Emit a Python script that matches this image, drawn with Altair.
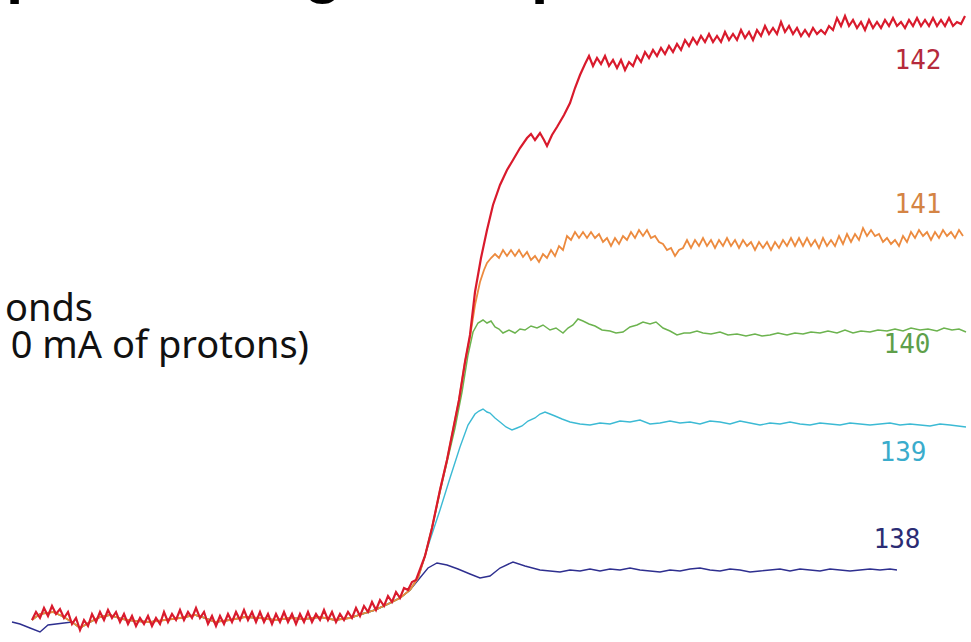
import altair as alt
import pandas as pd

# time axis in arbitrary units (0..971), signal in arbitrary units (0 = top of frame, 642 = bottom)
baseline_x = [32, 40, 53, 62, 72, 80, 90, 100, 110, 122, 135, 150, 165, 180, 195, 205, 215, 230, 245,
              260, 275, 290, 305, 320, 335, 350, 362, 375, 388, 400, 410, 418]
baseline_y = [620, 614, 612, 616, 622, 628, 622, 617, 615, 619, 621, 622, 620, 618, 615, 618, 622, 620, 617,
              618, 620, 618, 619, 617, 620, 618, 614, 610, 604, 598, 590, 578]

red_base_x = [32, 36, 40, 44, 48, 52, 56, 60, 64, 68, 72, 76, 80, 84, 88, 92, 96, 100, 104, 108, 112, 116,
              120, 124, 128, 132, 136, 140, 144, 148, 152, 156, 160, 164, 168, 172, 176, 180, 184, 188,
              192, 196, 200, 204, 208, 212, 216, 220, 224, 228, 232, 236, 240, 244, 248, 252, 256, 260,
              264, 268, 272, 276, 280, 284, 288, 292, 296, 300, 304, 308, 312, 316, 320, 324, 328, 332,
              336, 340, 344, 348, 352, 356, 360, 364, 368, 372, 376, 380, 384, 388, 392, 396, 400, 404,
              408, 412, 416]
red_base_y = [620, 612, 618, 608, 616, 606, 614, 609, 618, 612, 624, 618, 630, 620, 626, 614, 622, 612, 620,
              610, 618, 612, 622, 614, 624, 616, 626, 618, 624, 616, 626, 618, 624, 612, 622, 614, 620, 610,
              620, 612, 618, 608, 618, 612, 624, 616, 626, 616, 624, 614, 622, 612, 620, 610, 620, 612, 622,
              612, 622, 614, 624, 614, 622, 612, 622, 614, 624, 614, 622, 612, 622, 614, 620, 610, 620, 612,
              622, 614, 620, 612, 618, 608, 616, 606, 612, 602, 610, 600, 606, 596, 602, 592, 598, 588, 590,
              582, 580]

red_rise_x = [425, 432, 440, 447, 453, 459, 465, 470, 475, 481, 487, 493, 500, 507, 513, 520, 527, 531, 535,
              540, 544, 547, 552, 557, 564, 570, 575, 580]
red_rise_y = [556, 528, 490, 460, 430, 400, 362, 335, 292, 258, 230, 205, 185, 170, 160, 148, 138, 134, 140,
              133, 140, 146, 135, 127, 115, 103, 88, 75]

red_top_x = [585, 589, 593, 597, 601, 605, 609, 613, 617, 621, 625, 629, 633, 637, 641, 645, 649, 653, 657,
             661, 665, 669, 673, 677, 681, 685, 689, 693, 697, 701, 705, 709, 713, 717, 721, 725, 729, 733,
             737, 741, 745, 749, 753, 757, 761, 765, 769, 773, 777, 781, 785, 789, 793, 797, 801, 805, 809,
             813, 817, 821, 825, 829, 833, 837, 841, 845, 849, 853, 857, 861, 865, 869, 873, 877, 881, 885,
             889, 893, 897, 901, 905, 909, 913, 917, 921, 925, 929, 933, 937, 941, 945, 949, 953, 957, 961,
             965]
red_top_y = [64, 56, 66, 58, 64, 56, 66, 60, 68, 60, 70, 62, 66, 56, 62, 52, 58, 50, 56, 48, 54, 46, 52, 44,
             50, 40, 46, 38, 44, 36, 42, 34, 42, 36, 42, 32, 40, 34, 40, 30, 38, 32, 40, 30, 36, 26, 34, 28,
             34, 22, 32, 26, 34, 28, 36, 30, 36, 28, 34, 30, 34, 26, 30, 18, 26, 16, 26, 20, 28, 22, 30, 20,
             28, 22, 28, 20, 26, 18, 26, 22, 28, 20, 26, 18, 26, 20, 26, 18, 26, 20, 26, 18, 26, 22, 24, 16]

orange_rise_x = [425, 432, 440, 447, 453, 459, 465, 470, 475, 480, 484]
orange_rise_y = [556, 528, 490, 460, 430, 400, 362, 337, 305, 282, 270]
orange_top_x = [487, 491, 495, 499, 503, 507, 511, 515, 519, 523, 527, 531, 535, 539, 543, 547, 551, 555,
                559, 563, 567, 571, 575, 579, 583, 587, 591, 595, 599, 603, 607, 611, 615, 619, 623, 627,
                631, 635, 639, 643, 647, 651, 655, 659, 663, 667, 671, 675, 679, 683, 687, 691, 695, 699,
                703, 707, 711, 715, 719, 723, 727, 731, 735, 739, 743, 747, 751, 755, 759, 763, 767, 771,
                775, 779, 783, 787, 791, 795, 799, 803, 807, 811, 815, 819, 823, 827, 831, 835, 839, 843,
                847, 851, 855, 859, 863, 867, 871, 875, 879, 883, 887, 891, 895, 899, 903, 907, 911, 915,
                919, 923, 927, 931, 935, 939, 943, 947, 951, 955, 959, 963]
orange_top_y = [263, 258, 254, 258, 250, 256, 250, 256, 250, 257, 252, 260, 256, 262, 254, 258, 250, 256,
                246, 250, 236, 240, 232, 238, 232, 238, 232, 238, 234, 242, 238, 246, 238, 244, 236, 240,
                232, 238, 230, 236, 230, 238, 236, 242, 244, 250, 248, 256, 250, 248, 240, 248, 240, 246,
                238, 246, 240, 248, 240, 246, 238, 246, 240, 248, 240, 246, 242, 250, 242, 248, 242, 250,
                242, 248, 240, 246, 238, 246, 238, 246, 238, 246, 240, 248, 238, 246, 240, 246, 236, 244,
                234, 242, 234, 240, 228, 236, 230, 236, 234, 242, 238, 244, 240, 246, 236, 242, 232, 238,
                230, 236, 232, 240, 232, 238, 230, 236, 232, 238, 230, 236]

green_x = [425, 432, 440, 447, 455, 462, 468, 473, 478, 483, 487, 491, 495, 499, 503, 509, 515, 520, 525,
           531, 537, 543, 550, 556, 563, 568, 573, 578, 583, 589, 595, 602, 610, 616, 623, 630, 637, 643,
           650, 656, 663, 670, 677, 684, 690, 697, 703, 711, 720, 728, 737, 746, 755, 762, 770, 778, 787,
           795, 803, 811, 820, 828, 837, 845, 853, 861, 870, 878, 887, 895, 903, 911, 920, 928, 937, 944,
           952, 959, 966]
green_y = [556, 528, 492, 462, 428, 392, 355, 332, 323, 320, 323, 321, 327, 329, 333, 330, 333, 329, 330,
           326, 328, 325, 330, 328, 333, 328, 325, 319, 321, 324, 326, 330, 331, 333, 332, 327, 325, 322,
           324, 322, 328, 331, 335, 333, 333, 331, 333, 334, 332, 335, 334, 336, 334, 336, 335, 333, 335,
           333, 334, 332, 333, 331, 333, 330, 333, 331, 332, 330, 331, 329, 331, 328, 330, 329, 331, 328,
           330, 329, 332]

cyan_x = [422, 430, 440, 450, 460, 468, 475, 479, 483, 487, 490, 495, 500, 506, 512, 517, 522, 528, 535,
          540, 545, 550, 555, 562, 570, 580, 590, 600, 610, 620, 630, 640, 650, 660, 670, 680, 690, 700,
          710, 720, 730, 740, 750, 760, 770, 780, 790, 800, 810, 820, 830, 840, 850, 860, 870, 880, 890,
          900, 910, 920, 930, 940, 950, 958, 966]
cyan_y = [565, 540, 510, 478, 447, 425, 414, 411, 409, 412, 413, 418, 422, 427, 430, 428, 426, 421, 418,
          414, 412, 414, 416, 419, 422, 424, 425, 423, 424, 421, 422, 420, 424, 423, 421, 423, 422, 424,
          421, 422, 424, 421, 423, 425, 423, 424, 422, 424, 425, 423, 424, 425, 423, 424, 425, 424, 423,
          425, 424, 425, 426, 424, 425, 426, 427]

navy_lead_x = [12, 20, 30, 40, 48]
navy_lead_y = [622, 624, 628, 632, 625]
navy_x = [428, 437, 447, 458, 470, 480, 490, 500, 513, 525, 540, 550, 560, 570, 580, 590, 600, 610, 620,
          630, 640, 650, 660, 670, 680, 690, 700, 710, 720, 730, 740, 750, 760, 770, 780, 790, 800, 810,
          820, 830, 840, 850, 860, 870, 880, 890, 897]
navy_y = [568, 563, 565, 569, 574, 578, 576, 568, 562, 566, 570, 571, 572, 570, 571, 569, 571, 569, 570,
          568, 570, 571, 572, 570, 571, 569, 568, 570, 571, 569, 570, 572, 571, 570, 569, 571, 569, 570,
          571, 569, 570, 571, 570, 569, 570, 569, 570]

series_names = ["138", "139", "140", "141", "142"]
series_colors = ["#2e2f8f", "#3cbad4", "#6cb34f", "#ec8a3e", "#d91a2c"]
label_colors = ["#2b2c74", "#3aaccc", "#5e9f4a", "#d48444", "#b52a3c"]
label_x = [897, 903, 907, 918, 918]
label_y = [540, 453, 345, 205, 61]

traces = {
    "138": (navy_lead_x + baseline_x[4:-1] + navy_x, navy_lead_y + baseline_y[4:-1] + navy_y),
    "139": (baseline_x + cyan_x, baseline_y + cyan_y),
    "140": (baseline_x + green_x, baseline_y + green_y),
    "141": (baseline_x + orange_rise_x + orange_top_x, baseline_y + orange_rise_y + orange_top_y),
    "142": (red_base_x + red_rise_x + red_top_x, red_base_y + red_rise_y + red_top_y),
}

widths = {"138": 1.4, "139": 1.4, "140": 1.5, "141": 1.8, "142": 2.2}

W, H = 971, 642
xs = alt.Scale(domain=[0, W])
ys = alt.Scale(domain=[0, H], reverse=True)

layers = []
for name, col in zip(series_names, series_colors):
    tx, ty = traces[name]
    df = pd.DataFrame({"t": tx, "s": ty, "i": list(range(len(tx)))})
    layers.append(
        alt.Chart(df).mark_line(color=col, strokeWidth=widths[name], interpolate="linear").encode(
            x=alt.X("t:Q", scale=xs, axis=None),
            y=alt.Y("s:Q", scale=ys, axis=None),
            order="i:Q",
        )
    )

lab_df = pd.DataFrame({"name": series_names, "t": label_x, "s": label_y, "c": label_colors})
labels = alt.Chart(lab_df).mark_text(font="DejaVu Sans Mono", fontSize=26, align="center",
                                     baseline="middle").encode(
    x=alt.X("t:Q", scale=xs, axis=None),
    y=alt.Y("s:Q", scale=ys, axis=None),
    text="name:N",
    color=alt.Color("c:N", scale=None, legend=None),
)

side1 = alt.Chart(pd.DataFrame({"a": [0]})).mark_text(
    text="onds", font="Noto Sans", fontSize=38, align="right", baseline="alphabetic", color="#111111"
).encode(x=alt.value(93), y=alt.value(321))
side2 = alt.Chart(pd.DataFrame({"a": [0]})).mark_text(
    text="0 mA of protons)", font="Noto Sans", fontSize=38, align="right", baseline="alphabetic",
    color="#111111"
).encode(x=alt.value(309), y=alt.value(358))

title_parts = []
for ch, px in [("p", 6), ("g", 304), ("p", 531)]:
    title_parts.append(
        alt.Chart(pd.DataFrame({"a": [0]})).mark_text(
            text=ch, font="Liberation Sans", fontSize=62, fontWeight="bold", align="left",
            baseline="bottom", color="#000000"
        ).encode(x=alt.value(px), y=alt.value(4))
    )

chart = alt.layer(*layers, labels, side1, side2, *title_parts).properties(
    width=W, height=H, padding=0, autosize=alt.AutoSizeParams(type="none"), background="white"
).configure_view(stroke=None)

chart.save("out.html", embed_options={"renderer": "svg", "actions": False})
